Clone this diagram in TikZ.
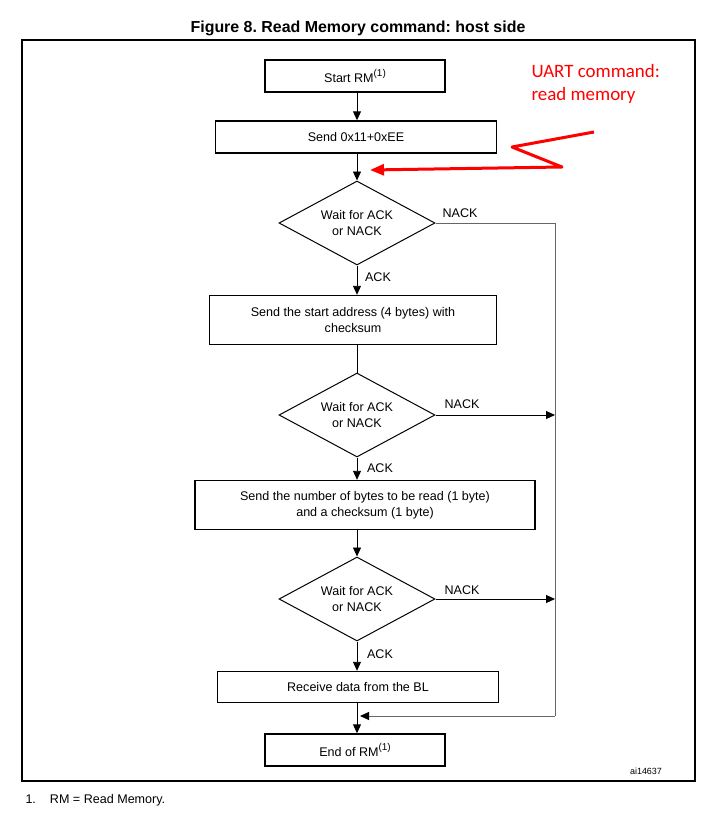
\documentclass[tikz,border=0pt]{standalone}
\usepackage{fontspec}
\setmainfont{Liberation Sans}
\newfontfamily\notefont{Carlito}
\usetikzlibrary{shapes.geometric,arrows.meta}
\frenchspacing

% superscript footnote mark as set in the flow boxes
\newcommand{\fnmark}[1]{\raisebox{0.45em}{\fontsize{10}{10}\selectfont(#1)}}

\begin{document}
\begin{tikzpicture}[x=1bp,y=-1bp,
  every node/.style={font=\fontsize{12.6}{16}\selectfont},
  stepbox/.style={draw,line width=1.4bp,rectangle,inner sep=0,align=center},
  decision/.style={draw,line width=1bp,diamond,inner sep=0,aspect=1.86,
    minimum width=156bp,minimum height=84bp,align=center},
  flow/.style={line width=0.9bp,-{Triangle[length=9bp,width=8bp]}},
  back/.style={draw=black!60,line width=1bp},
  lbl/.style={font=\fontsize{12.6}{15}\selectfont}]

\useasboundingbox (0,0) rectangle (728,816);

% title and frame
\node (title) at (358,28) {\fontsize{16}{19}\selectfont\bfseries Figure 8. Read Memory command: host side};
\draw[line width=1.1bp] (22,40) rectangle (695,781);

% flow steps
\node[stepbox,minimum width=180bp,minimum height=32bp] (start) at (355,76) {Start RM\fnmark{1}};
\node[stepbox,minimum width=281bp,minimum height=32bp] (send) at (356,137) {Send 0x11+0xEE};
\node[decision] (d1) at (357,223) {Wait for ACK\\or NACK};
\node[stepbox,minimum width=287bp,minimum height=49bp] (addr) at (353,320) {Send the start address (4 bytes) with\\checksum};
\node[decision] (d2) at (357,415) {Wait for ACK\\or NACK};
\node[stepbox,minimum width=340bp,minimum height=49bp] (nbytes) at (365,505) {Send the number of bytes to be read (1 byte)\\and a checksum (1 byte)};
\node[decision] (d3) at (357,599) {Wait for ACK\\or NACK};
\node[stepbox,minimum width=281bp,minimum height=31bp] (recv) at (358,687) {Receive data from the BL};
\node[stepbox,minimum width=180bp,minimum height=32bp] (stop) at (355,750) {End of RM\fnmark{1}};

% NACK rail
\coordinate (railtop) at (555,223);
\coordinate (rail2) at (555,415);
\coordinate (rail3) at (555,599);
\coordinate (railbot) at (555,716);
\coordinate (join) at (357,716);

% main flow
\draw[flow] (start.south -| d1.north) -- (send.north -| d1.north);
\draw[flow] (send.south -| d1.north) -- (d1.north);
\draw[flow] (d1.south) -- (addr.north -| d1.south);
\draw[line width=0.9bp] (addr.south -| d2.north) -- (d2.north);
\draw[flow] (d2.south) -- (nbytes.north -| d2.south);
\draw[flow] (nbytes.south -| d3.north) -- (d3.north);
\draw[flow] (d3.south) -- (recv.north -| d3.south);
\draw[flow] (recv.south -| join) -- (stop.north -| join);

% NACK branches
\draw[back] (d1.east) -- (railtop) -- (railbot);
\draw[back,-{Triangle[length=9bp,width=8bp,color=black]}] (railbot) -- ([xshift=3bp]join);
\draw[flow] (d2.east) -- (rail2);
\draw[flow] (d3.east) -- (rail3);

% branch labels
\node[lbl] (n1) at (460,213) {NACK};
\node[lbl] (a1) at (378,277) {ACK};
\node[lbl] (n2) at (462,404) {NACK};
\node[lbl] (a2) at (380,468) {ACK};
\node[lbl] (n3) at (462,590) {NACK};
\node[lbl] (a3) at (380,654) {ACK};

% annotation
\node[anchor=west,align=left,text=red,font=\notefont\fontsize{19}{23.5}\selectfont] (uart) at (528,84) {UART command:\\read memory};
\coordinate (z1) at (594,132);
\coordinate (z2) at (512,147);
\coordinate (z3) at (562,167);
\coordinate (tip) at (370,170);
\draw[red,line width=3bp,line join=round,-{Triangle[length=14bp,width=11bp]}] (z1) -- (z2) -- (z3) -- (tip);

% figure id and footnote
\node[font=\fontsize{9}{11}\selectfont] (fid) at (646,771) {ai14637};
\node[anchor=west,font=\fontsize{12.6}{15}\selectfont] (fn) at (22,800) {1.\hspace{14bp}RM = Read Memory.};
\end{tikzpicture}
\end{document}
